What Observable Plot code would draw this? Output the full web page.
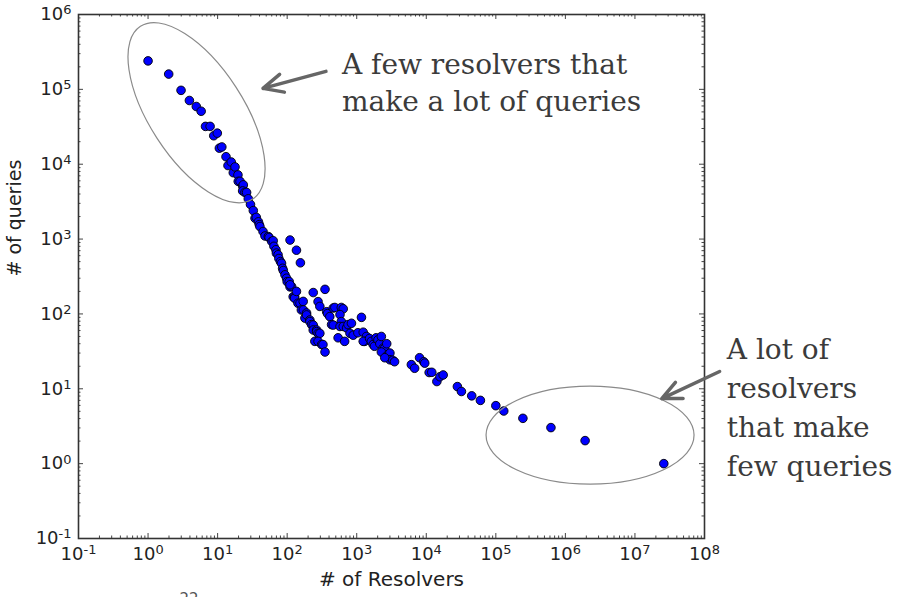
<!DOCTYPE html>
<html><head><meta charset="utf-8">
<script src="https://cdn.jsdelivr.net/npm/d3@7"></script>
<script src="https://cdn.jsdelivr.net/npm/@observablehq/plot@0.6"></script>
<style>body{margin:0;background:#fff;overflow:hidden}</style>
</head><body><div id="chart"></div>
<script>
// ---- data ----
const resolvers = [1,1.98,2.98,3.93,4.94,5.8,6.7,7.8,8.8,9.9,10.6,11.5,13.2,14.1,15.7,16.8,17.8,19.6,19.8,21,22.9,23.4,22.9,24.7,26.1,27.6,29.7,32.6,34.5,36,38.6,39.7,40.6,45,48,53.5,55,60,63,64.5,69,70,74,76,80,83,86,88,93,98,100,107,110,116,110,122,128,128,136,143,153,170,160,171,180,190,190,212,212,224,237,237,265,265,278,295,250,278,313,327,350,
110,136,155,
237,350,278,295,370,380,410,460,485,600,640,435,460,575,600,575,640,715,750,840,1170,540,670,800,890,1040,1240,1380,1300,1240,1530,1620,1720,1800,1900,2020,2150,2260,2400,2530,2260,2700,2800,3000,3000,2530,3300,3500,
6100,6800,8000,9200,9500,11000,12000,14200,15700,17500,28000,32000,45000,60000,100000,130000,245000,620000,1920000,26000000];
const queries = [240000,160000,97000,71000,59000,51000,32000,32000,24000,26000,16400,17000,12600,9600,10700,7700,9200,7200,5900,5900,5100,5300,4400,4200,4200,3450,2900,2400,1900,1950,1700,1560,1470,1260,1100,1080,1050,930,950,800,720,650,617,550,500,475,407,380,333,300,270,270,230,232,245,170,170,162,200,139,139,147,113,113,88,103,97,83,79,72,71,61,61,58,55,55,43,43,39,39,31,
970,710,482,
193,213,146,126,107,101,92,120,122,122,117,72,71,98,79,68,68,65,72,75,90,48,43,55,52,56,57,50,43,43,47,43,39,37,48,45,40,50,35,35,31,40,28.5,30,24.4,26,24,23,
21,18.8,26,23,22,16.5,16.6,12.5,14.5,15.3,10.7,9.2,8.05,7.0,5.95,5.05,4.03,3.03,2.03,1.0];
const xDecades = [-1,0,1,2,3,4,5,6,7,8];
const yDecades = [-1,0,1,2,3,4,5,6];
const xLabel = "# of Resolvers";
const yLabel = "# of queries";
const noteTop = ["A few resolvers that", "make a lot of queries"];
const noteBottom = ["A lot of", "resolvers", "that make", "few queries"];
const pageNumber = "22";

const points = resolvers.map((r, i) => ({r, q: queries[i]}));

// ---- layout ----
const W = 898, H = 597, mt = 14, mb = 59, ml = 78, mr = 194;
const ph = H - mt - mb, pw = W - ml - mr;
const sup = {"-":"\u207B","0":"\u2070","1":"\u00B9","2":"\u00B2","3":"\u00B3","4":"\u2074","5":"\u2075","6":"\u2076","7":"\u2077","8":"\u2078","9":"\u2079"};
const fmt = d => "10" + String(Math.round(Math.log10(d))).split("").map(c => sup[c]).join("");
const xMajor = xDecades.map(e => 10 ** e);
const yMajor = yDecades.map(e => 10 ** e);
const minorOf = (dec) => dec.slice(0, -1).flatMap(e => [2,3,4,5,6,7,8,9].map(k => k * 10 ** e));
const xMinor = minorOf(xDecades), yMinor = minorOf(yDecades);

const tickColor = "#444";
const annColor = "#3b3b3b";

// annotation anchors (data coordinates)
const ellipses = [
  {cx: 5.06, cy: 4.8e4, rx: 103, ry: 47, rot: 57},
  {cx: 2.3e6, cy: 2.37, rx: 104, ry: 49, rot: 0}
];
const arrows = [
  {x1: 361, y1: 1.74e5, x2: 44.9, y2: 1.03e5},
  {x1: 1.65e8, y1: 17, x2: 2.43e7, y2: 7.4}
];

const ellipseMark = (index, scales) => {
  const g = d3.create("svg:g");
  for (const e of ellipses) {
    const cx = scales.x(e.cx), cy = scales.y(e.cy);
    g.append("ellipse").attr("cx", cx).attr("cy", cy).attr("rx", e.rx).attr("ry", e.ry)
      .attr("transform", `rotate(${e.rot},${cx},${cy})`)
      .attr("fill", "none").attr("stroke", "#8a8a8a").attr("stroke-width", 1.2);
  }
  return g.node();
};

const noteStyle = {textAnchor: "start", lineAnchor: "top", fontFamily: "DejaVu Serif", fontSize: 28, fill: annColor};

const chart = Plot.plot({
  width: W, height: H,
  marginTop: mt, marginBottom: mb, marginLeft: ml, marginRight: mr,
  style: {fontFamily: "DejaVu Sans", background: "#fff", overflow: "visible"},
  x: {type: "log", domain: [0.1, 1e8]},
  y: {type: "log", domain: [0.1, 1e6]},
  marks: [
    Plot.axisX({ticks: xMajor, tickSize: 0, tickPadding: 9, tickFormat: fmt, fontSize: 18, label: null, fill: "#222"}),
    Plot.axisY({ticks: yMajor, tickSize: 0, tickPadding: 7, tickFormat: fmt, fontSize: 18, label: null, fill: "#222"}),
    // inward ticks on all four sides
    Plot.ruleX(xMajor, {x: d => d, insetTop: ph - 5, stroke: tickColor}),
    Plot.ruleX(xMajor, {x: d => d, insetBottom: ph - 5, stroke: tickColor}),
    Plot.ruleX(xMinor, {x: d => d, insetTop: ph - 2.5, stroke: tickColor}),
    Plot.ruleX(xMinor, {x: d => d, insetBottom: ph - 2.5, stroke: tickColor}),
    Plot.ruleY(yMajor, {y: d => d, insetRight: pw - 5, stroke: tickColor}),
    Plot.ruleY(yMajor, {y: d => d, insetLeft: pw - 5, stroke: tickColor}),
    Plot.ruleY(yMinor, {y: d => d, insetRight: pw - 2.5, stroke: tickColor}),
    Plot.ruleY(yMinor, {y: d => d, insetLeft: pw - 2.5, stroke: tickColor}),
    Plot.frame({stroke: "#333", strokeWidth: 1.6}),
    Plot.text([xLabel], {text: d => d, frameAnchor: "bottom", dy: 47, fontSize: 20, fill: "#222"}),
    Plot.text([yLabel], {text: d => d, frameAnchor: "left", dx: -64, rotate: -90, fontSize: 19, fill: "#222"}),
    Plot.text([pageNumber], {text: d => d, frameAnchor: "bottom-left", dx: 101, dy: 55, lineAnchor: "top", fontSize: 15, fill: "#555"}),
    Plot.dot(points, {x: "r", y: "q", r: 4.3, fill: "#0000ff", stroke: "#000", strokeWidth: 0.9}),
    ellipseMark,
    Plot.arrow(arrows, {x1: "x1", y1: "y1", x2: "x2", y2: "y2", stroke: "#666", strokeWidth: 3.5, headLength: 12, headAngle: 50}),
    Plot.text([noteTop.join("\n")], {x: () => 613, y: () => 3.64e5, text: d => d, lineHeight: 1.32, ...noteStyle}),
    Plot.text([noteBottom.join("\n")], {x: () => 2.09e8, y: () => 58.2, text: d => d, lineHeight: 1.39, ...noteStyle})
  ]
});
document.getElementById("chart").appendChild(chart);

// mathtext-like superscripts on the tick labels
d3.select(chart).selectAll("g[aria-label$='tick label'] text").each(function() {
  const t = this.textContent;
  if (!t.startsWith("10")) return;
  const inv = Object.fromEntries(Object.entries(sup).map(([k, v]) => [v, k]));
  const exp = t.slice(2).split("").map(c => inv[c] ?? c).join("");
  const sel = d3.select(this);
  sel.text("10");
  sel.append("tspan").attr("dy", "-0.45em").attr("font-size", "0.72em").text(exp);
});
</script>
</body></html>
